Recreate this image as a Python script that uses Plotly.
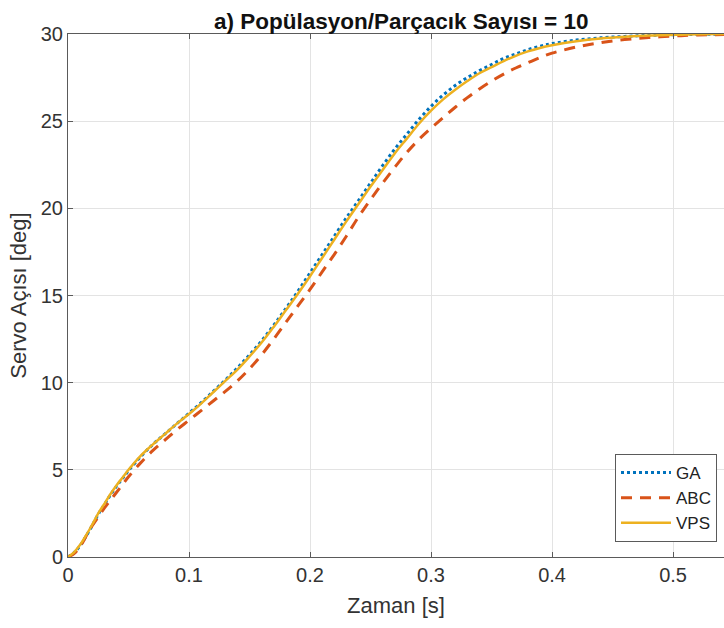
import plotly.graph_objects as go

# ---- data ----
t = [0.0, 0.005, 0.01, 0.015, 0.02, 0.025, 0.03, 0.035, 0.04, 0.045, 0.05,
     0.06, 0.07, 0.08, 0.09, 0.10, 0.11, 0.12, 0.13, 0.14, 0.15, 0.16, 0.17,
     0.18, 0.19, 0.20, 0.21, 0.22, 0.23, 0.24, 0.25, 0.26, 0.27, 0.28, 0.29,
     0.30, 0.31, 0.32, 0.33, 0.34, 0.35, 0.36, 0.37, 0.38, 0.39, 0.40, 0.42,
     0.44, 0.46, 0.48, 0.50, 0.52, 0.55]

ga = [0.0, 0.25, 0.65, 1.2, 1.8, 2.45, 3.0, 3.55, 4.05, 4.5, 4.95,
      5.75, 6.45, 7.05, 7.65, 8.25, 8.85, 9.5, 10.15, 10.85, 11.6, 12.4, 13.3,
      14.25, 15.25, 16.3, 17.35, 18.4, 19.45, 20.45, 21.45, 22.45, 23.4, 24.25, 25.1,
      25.85, 26.5, 27.05, 27.5, 27.9, 28.25, 28.6, 28.85, 29.1, 29.3, 29.45, 29.65,
      29.78, 29.86, 29.92, 29.96, 29.98, 30.0]

abc = [0.0, 0.2, 0.6, 1.2, 1.8, 2.3, 2.8, 3.25, 3.7, 4.15, 4.6,
       5.4, 6.1, 6.7, 7.3, 7.85, 8.4, 8.95, 9.5, 10.1, 10.8, 11.6, 12.5,
       13.45, 14.4, 15.35, 16.35, 17.35, 18.4, 19.5, 20.5, 21.45, 22.35, 23.2, 23.95,
       24.6, 25.2, 25.8, 26.35, 26.85, 27.3, 27.7, 28.05, 28.35, 28.65, 28.9, 29.25,
       29.5, 29.68, 29.8, 29.88, 29.94, 29.97]

vps = [0.0, 0.27, 0.7, 1.25, 1.85, 2.5, 3.05, 3.6, 4.1, 4.55, 5.0,
       5.8, 6.45, 7.05, 7.65, 8.2, 8.8, 9.45, 10.1, 10.75, 11.5, 12.3, 13.2,
       14.15, 15.1, 16.1, 17.15, 18.2, 19.25, 20.25, 21.25, 22.2, 23.15, 24.0, 24.85,
       25.6, 26.25, 26.8, 27.3, 27.75, 28.1, 28.45, 28.75, 29.0, 29.2, 29.35, 29.58,
       29.74, 29.84, 29.91, 29.95, 29.98, 30.0]

series_names = ["GA", "ABC", "VPS"]
x_tickvals = [0, 0.1, 0.2, 0.3, 0.4, 0.5]
x_ticktext = ["0", "0.1", "0.2", "0.3", "0.4", "0.5"]
y_tickvals = [0, 5, 10, 15, 20, 25, 30]
y_ticktext = ["0", "5", "10", "15", "20", "25", "30"]

FONT = "Liberation Sans, Arial, Helvetica, sans-serif"

fig = go.Figure()
fig.add_trace(go.Scatter(x=t, y=ga, mode="lines", name=series_names[0],
                         line=dict(color="#0072BD", width=3, dash="dot", shape="spline")))
fig.add_trace(go.Scatter(x=t, y=abc, mode="lines", name=series_names[1],
                         line=dict(color="#D95319", width=3, dash="11px,8px", shape="spline")))
fig.add_trace(go.Scatter(x=t, y=vps, mode="lines", name=series_names[2],
                         line=dict(color="#EDB120", width=2.5, shape="spline")))

axis_common = dict(
    showline=True, linecolor="#5a5a5a", linewidth=1,
    showgrid=True, gridcolor="#e3e3e3", gridwidth=1,
    ticks="inside", ticklen=5, tickcolor="#5a5a5a",
    tickfont=dict(family=FONT, size=20, color="#333333"),
    zeroline=False,
)

fig.update_layout(
    width=724, height=628,
    margin=dict(l=68, r=0, t=34, b=71),
    paper_bgcolor="white", plot_bgcolor="white",
    title=dict(text="<b>a) Popülasyon/Parçacık Sayısı = 10</b>",
               font=dict(family=FONT, size=22.5, color="#111111"),
               x=0.508, xref="paper", xanchor="center",
               y=1 - 21 / 628, yref="container", yanchor="middle"),
    xaxis=dict(range=[0, 0.5421], tickvals=x_tickvals, ticktext=x_ticktext,
               mirror="ticks",
               title=dict(text="Zaman [s]", standoff=12,
                          font=dict(family=FONT, size=22, color="#333333")),
               **axis_common),
    yaxis=dict(range=[0, 30], tickvals=y_tickvals, ticktext=y_ticktext,
               title=dict(text="Servo Açısı [deg]", standoff=8,
                          font=dict(family=FONT, size=22, color="#333333")),
               **axis_common),
    legend=dict(x=(717 - 68) / 656, xanchor="right",
                y=(557 - 542) / 523, yanchor="bottom",
                bgcolor="white", bordercolor="#5a5a5a", borderwidth=1,
                font=dict(family=FONT, size=17, color="#222222"),
                tracegroupgap=0, itemwidth=50),
    showlegend=True,
)

fig.write_html("out.html")
